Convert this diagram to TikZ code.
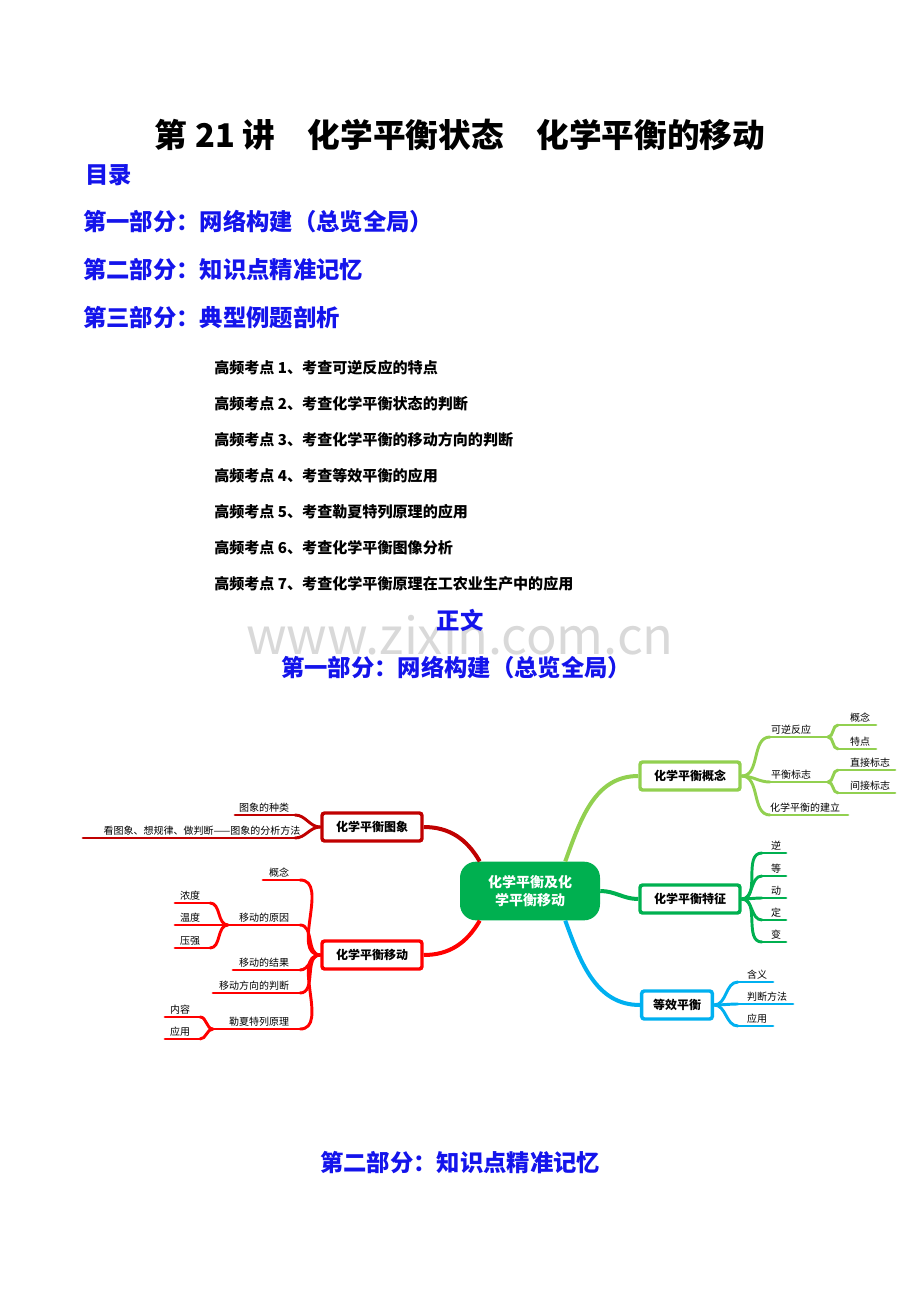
\documentclass[tikz,border=0pt]{standalone}
\usepackage{fontspec}
\setmainfont{Noto Sans CJK SC}
\usetikzlibrary{positioning}
\definecolor{hblue}{RGB}{20,20,235}
\definecolor{cgreen}{RGB}{0,176,80}
\definecolor{lgreen}{RGB}{146,208,80}
\definecolor{cyanb}{RGB}{0,176,240}
\definecolor{dred}{RGB}{192,0,0}
\definecolor{bred}{RGB}{255,0,0}
% leaf: name, text, x1, x2, y, colour, text x
\newcommand{\leaf}[7]{%
  \coordinate (#1-a) at (#3,#5);
  \coordinate (#1-b) at (#4,#5);
  \node[leaftext] (#1) at (#7,#5) {#2};
  \draw[#6,leafline] (#1-a) -- (#1-b);}
\begin{document}
\begin{tikzpicture}[x=0.75pt,y=-0.75pt,
  head/.style={text=hblue,font=\fontsize{17.5}{19}\selectfont\bfseries,anchor=west,inner sep=0},
  item/.style={font=\fontsize{11.3}{12}\selectfont\bfseries,anchor=west,inner sep=0},
  leaftext/.style={anchor=south,font=\fontsize{7.5}{8}\selectfont,inner sep=1.5pt},
  leafline/.style={line width=2.2pt,line cap=round},
  main/.style={draw=#1,line width=2.6pt,rounded corners=2pt,fill=white,minimum width=75pt,minimum height=21pt,font=\fontsize{9}{10}\selectfont\bfseries},
  trunk/.style={line width=3pt}]
\path[use as bounding box] (0,0) rectangle (920,1302);

% header
\node[font=\fontsize{24.5}{26}\selectfont\bfseries] (title) at (460,135) {第 21 讲\quad 化学平衡状态\quad 化学平衡的移动};
\node[head] (toc) at (85,175) {目录};
\node[head] (p1) at (83,222) {第一部分：网络构建（总览全局）};
\node[head] (p2) at (83,270) {第二部分：知识点精准记忆};
\node[head] (p3) at (83,318) {第三部分：典型例题剖析};
\foreach \t [count=\i] in {考查可逆反应的特点,考查化学平衡状态的判断,考查化学平衡的移动方向的判断,考查等效平衡的应用,考查勒夏特列原理的应用,考查化学平衡图像分析,考查化学平衡原理在工农业生产中的应用}
  \node[item] (k\i) at (214,{368+36*(\i-1)}) {高频考点 \i、\t};
\node[text=black!15,font=\fontsize{38}{40}\selectfont] (wm) at (460,635) {www.zixin.com.cn};
\node[head,anchor=center] (zw) at (460,620) {正文};
\node[head,anchor=center] (s1) at (456,668) {第一部分：网络构建（总览全局）};
\node[head,anchor=center] (s2) at (460,1163) {第二部分：知识点精准记忆};

% centre
\node[fill=cgreen,rounded corners=12pt,minimum width=105pt,minimum height=44pt,text=white,align=center,font=\fontsize{10.5}{13}\selectfont\bfseries] (c) at (530,891) {化学平衡及化\\学平衡移动};
\node[main=lgreen] (gn) at (690,776) {化学平衡概念};
\node[main=cgreen] (tz) at (690,899) {化学平衡特征};
\node[main=cyanb,minimum width=53pt] (dx) at (677,1005) {等效平衡};
\node[main=dred] (tx) at (372,827) {化学平衡图象};
\node[main=bred] (yd) at (372,955) {化学平衡移动};
\draw[lgreen,trunk] (c.north east) ++(-35,0) to[out=70,in=180] (gn.west);
\draw[cgreen,trunk] (c.east) to[out=0,in=180] (tz.west);
\draw[cyanb,trunk] (c.south east) ++(-35,0) to[out=-70,in=180] (dx.west);
\draw[dred,trunk] (c.north west) ++(20,0) to[out=120,in=0] (tx.east);
\draw[bred,trunk] (c.south west) ++(20,0) to[out=-120,in=0] (yd.east);

% right: concept
\leaf{kn}{可逆反应}{770}{828}{737}{lgreen}{791}
\leaf{bz}{平衡标志}{770}{828}{782}{lgreen}{791}
\leaf{jl}{化学平衡的建立}{770}{848}{815}{lgreen}{805}
\foreach \n in {kn,bz,jl} \draw[lgreen,leafline] (gn.east) to[out=0,in=180] (\n-a);
\leaf{gn1}{概念}{838}{876}{725}{lgreen}{860}
\leaf{td}{特点}{838}{876}{749}{lgreen}{860}
\leaf{zj}{直接标志}{838}{895}{770}{lgreen}{870}
\leaf{jj}{间接标志}{838}{895}{793}{lgreen}{870}
\foreach \n in {gn1,td} \draw[lgreen,leafline] (kn-b) to[out=0,in=180] (\n-a);
\foreach \n in {zj,jj} \draw[lgreen,leafline] (bz-b) to[out=0,in=180] (\n-a);

% right: features
\foreach \t/\y [count=\i] in {逆/853,等/876,动/898,定/920,变/942}{
  \leaf{f\i}{\t}{762}{786}{\y}{cgreen}{776}
  \draw[cgreen,leafline] (tz.east) to[out=0,in=180] (f\i-a);}

% right: equivalence
\leaf{hy}{含义}{738}{773}{982}{cyanb}{757}
\leaf{pd}{判断方法}{738}{793}{1004}{cyanb}{767}
\leaf{yy}{应用}{738}{773}{1026}{cyanb}{757}
\foreach \n in {hy,pd,yy} \draw[cyanb,leafline] (dx.east) to[out=0,in=180] (\n-a);

% left: graphs
\leaf{zl}{图象的种类}{235}{295}{815}{dred}{264}
\leaf{ff}{看图象、想规律、做判断——图象的分析方法}{83}{295}{838}{dred}{202}
\foreach \n in {zl,ff} \draw[dred,leafline] (tx.west) to[out=180,in=0] (\n-b);

% left: shift
\leaf{yg}{概念}{263}{300}{880}{bred}{279}
\leaf{yy1}{移动的原因}{228}{300}{925}{bred}{264}
\leaf{jg}{移动的结果}{233}{300}{970}{bred}{264}
\leaf{fx}{移动方向的判断}{213}{300}{993}{bred}{254}
\leaf{lx}{勒夏特列原理}{213}{300}{1029}{bred}{259}
\foreach \n in {yg,yy1,jg,fx,lx} \draw[bred,leafline] (yd.west) to[out=180,in=0] (\n-b);
\leaf{nd}{浓度}{175}{210}{903}{bred}{190}
\leaf{wd}{温度}{175}{210}{925}{bred}{190}
\leaf{yq}{压强}{175}{210}{948}{bred}{190}
\foreach \n in {nd,wd,yq} \draw[bred,leafline] (yy1-a) to[out=180,in=0] (\n-b);
\leaf{nr}{内容}{165}{200}{1017}{bred}{180}
\leaf{yy2}{应用}{165}{200}{1039}{bred}{180}
\foreach \n in {nr,yy2} \draw[bred,leafline] (lx-a) to[out=180,in=0] (\n-b);
\end{tikzpicture}
\end{document}
